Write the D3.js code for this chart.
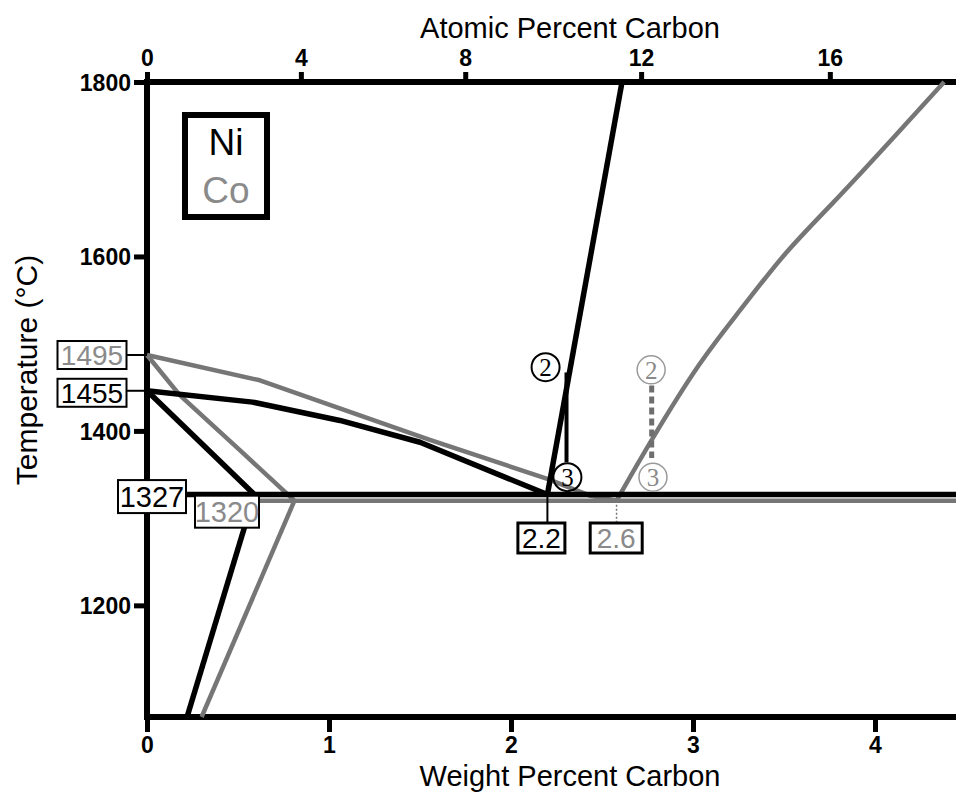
<!DOCTYPE html>
<html>
<head>
<meta charset="utf-8">
<script src="https://cdn.jsdelivr.net/npm/d3@7.9.0/dist/d3.min.js"></script>
<style>
  body { margin: 0; background: #fff; }
  svg { display: block; font-family: "Liberation Sans", Arial, sans-serif; }
</style>
</head>
<body>
<svg width="956" height="799"></svg>
<script>
// ---- data (wt% C, temperature in °C) ----
const weightTicks = [0, 1, 2, 3, 4];
const atomicTicks = [0, 4, 8, 12, 16];
const tempTicks = [1200, 1400, 1600, 1800];

const niLiquidus = [[0, 1446], [0.58, 1433], [1.06, 1412], [1.50, 1387], [2.2, 1327]];
const coLiquidus = [[0, 1487], [0.62, 1458], [1.55, 1390], [2.2, 1345], [2.43, 1326], [2.58, 1320]];
const niSolidus = [[0, 1446], [0.59, 1327]];
const coSolidus = [[0, 1487], [0.18, 1441], [0.51, 1378], [0.81, 1320]];
const niSolvus = [[0.59, 1327], [0.22, 1072]];
const coSolvus = [[0.81, 1320], [0.30, 1072]];
const niEutectic = [[0.21, 1327], [4.5, 1327]];
const coEutectic = [[0.62, 1320], [4.5, 1320]];
const niGraphite = [[2.2, 1327], [2.61, 1800]];
const coGraphite = [[2.58, 1320], [2.76, 1386], [3.04, 1481], [3.26, 1538], [3.50, 1604],
                    [3.77, 1661], [4.04, 1722], [4.38, 1800]];

const niBar = [[2.305, 1467], [2.305, 1364]];
const coBar = [[2.773, 1452], [2.773, 1369]];
const niMarks = [{ label: "2", w: 2.19, t: 1473 }, { label: "3", w: 2.31, t: 1347 }];
const coMarks = [{ label: "2", w: 2.77, t: 1470 }, { label: "3", w: 2.78, t: 1347 }];

const meltLabels = [{ text: "1495", t: 1487, co: true }, { text: "1455", t: 1446, co: false }];
const eutecticT = [{ text: "1327", t: 1327, co: false }, { text: "1320", t: 1320, co: true }];
const eutecticW = [{ text: "2.2", w: 2.2, co: false }, { text: "2.6", w: 2.6, co: true }];

const BLACK = "#000";
const GRAY = "#767676";
const GRAY_TEXT = "#8a8a8a";

// ---- scales ----
const svg = d3.select("svg");
const x = d3.scaleLinear().domain([0, 4.5]).range([147, 966]);
const y = d3.scaleLinear().domain([1072, 1800]).range([717, 82]);

// atomic % C in Ni -> weight % C
const atToWt = (a) => 100 * (a * 12.011) / (a * 12.011 + (100 - a) * 58.69);

const line = d3.line().x(d => x(d[0])).y(d => y(d[1]));
const smooth = d3.line().x(d => x(d[0])).y(d => y(d[1])).curve(d3.curveBasis);

// ---- axes ----
const axisB = svg.append("g")
  .attr("transform", `translate(0,${y(1072)})`)
  .call(d3.axisBottom(x).tickValues(weightTicks).tickSize(15).tickPadding(5).tickFormat(d3.format("d")));
const axisT = svg.append("g")
  .attr("transform", `translate(0,${y(1800)})`)
  .call(d3.axisTop(x).tickValues(atomicTicks.map(atToWt)).tickSize(10).tickPadding(6)
    .tickFormat((d, i) => atomicTicks[i]));
const axisL = svg.append("g")
  .attr("transform", `translate(${x(0)},0)`)
  .call(d3.axisLeft(y).tickValues(tempTicks).tickSize(13).tickPadding(3).tickFormat(d3.format("d")));

[axisB, axisT, axisL].forEach(g => {
  g.select(".domain").remove();
  g.attr("font-family", null).attr("font-size", null);
  g.selectAll(".tick line").attr("stroke", BLACK).attr("stroke-width", 5);
  g.selectAll(".tick text").attr("font-size", 23).attr("font-weight", "bold").attr("fill", BLACK);
});
axisL.selectAll(".tick text").attr("dy", "0.36em");

// frame
svg.append("path")
  .attr("d", `M${x(4.5)},${y(1800)}H${x(0)}V${y(1072)}H${x(4.5)}`)
  .attr("fill", "none").attr("stroke", BLACK).attr("stroke-width", 6);

// axis titles
svg.append("text").attr("x", 570).attr("y", 38).attr("text-anchor", "middle")
  .attr("font-size", 29).text("Atomic Percent Carbon");
svg.append("text").attr("x", 570).attr("y", 786).attr("text-anchor", "middle")
  .attr("font-size", 29).text("Weight Percent Carbon");
svg.append("text").attr("transform", "translate(37,370) rotate(-90)").attr("text-anchor", "middle")
  .attr("font-size", 30).text("Temperature (°C)");

// ---- phase boundaries ----
const curves = svg.append("g").attr("fill", "none").attr("stroke-linejoin", "round");
[coLiquidus, coSolidus, coSolvus, coEutectic].forEach(d =>
  curves.append("path").attr("d", line(d)).attr("stroke", GRAY).attr("stroke-width", 4.5));
curves.append("path").attr("d", smooth(coGraphite)).attr("stroke", GRAY).attr("stroke-width", 4.5);
[niLiquidus, niSolidus, niSolvus, niEutectic, niGraphite].forEach(d =>
  curves.append("path").attr("d", line(d)).attr("stroke", BLACK).attr("stroke-width", 5.5));

curves.append("path").attr("d", line(niBar)).attr("stroke", BLACK).attr("stroke-width", 4);
curves.append("path").attr("d", line(coBar)).attr("stroke", "#6e6e6e").attr("stroke-width", 5)
  .attr("stroke-dasharray", "7,4");

// circled markers
function marks(data, color, textColor, width) {
  const g = svg.append("g").selectAll("g").data(data).join("g")
    .attr("transform", d => `translate(${x(d.w)},${y(d.t)})`);
  g.append("circle").attr("r", 14).attr("fill", "none")
    .attr("stroke", color).attr("stroke-width", width);
  g.append("text").attr("text-anchor", "middle").attr("dy", "0.35em")
    .attr("font-family", "'Liberation Serif', 'DejaVu Serif', serif").attr("font-size", 25)
    .attr("fill", textColor).text(d => d.label);
}
marks(niMarks, BLACK, BLACK, 2);
marks(coMarks, "#9a9a9a", GRAY_TEXT, 1.5);

// boxed labels
function box(cx, cy, w, h, text, co, size, sw) {
  svg.append("rect").attr("x", cx - w / 2).attr("y", cy - h / 2).attr("width", w).attr("height", h)
    .attr("fill", "#fff").attr("stroke", BLACK).attr("stroke-width", sw);
  svg.append("text").attr("x", cx).attr("y", cy).attr("dy", "0.36em").attr("text-anchor", "middle")
    .attr("font-size", size).attr("fill", co ? GRAY_TEXT : BLACK).text(text);
}

// melting points on the temperature axis
meltLabels.forEach((d, i) => {
  svg.append("line").attr("x1", 127).attr("x2", x(0)).attr("y1", y(d.t)).attr("y2", y(d.t))
    .attr("stroke", BLACK).attr("stroke-width", 2);
  box(92, y(d.t) + (i ? 2 : 0), 69, 28, d.text, d.co, 28, 2);
});

// eutectic temperatures
box(152, y(eutecticT[0].t) + 2, 68, 33, eutecticT[0].text, eutecticT[0].co, 29, 2);
box(227, y(eutecticT[1].t) + 11, 64, 32, eutecticT[1].text, eutecticT[1].co, 29, 2);

// eutectic compositions
svg.append("line").attr("x1", x(2.2)).attr("x2", x(2.2)).attr("y1", y(1327)).attr("y2", 523)
  .attr("stroke", BLACK).attr("stroke-width", 2);
svg.append("line").attr("x1", x(2.58)).attr("x2", x(2.58)).attr("y1", y(1320)).attr("y2", 523)
  .attr("stroke", GRAY).attr("stroke-width", 1.5).attr("stroke-dasharray", "2,2");
box(x(eutecticW[0].w) - 6, 538, 47, 30, eutecticW[0].text, eutecticW[0].co, 28, 3);
box(x(eutecticW[1].w) - 4, 538, 52, 30, eutecticW[1].text, eutecticW[1].co, 28, 3);

// legend
svg.append("rect").attr("x", 185).attr("y", 115).attr("width", 82).attr("height", 102)
  .attr("fill", "#fff").attr("stroke", BLACK).attr("stroke-width", 6);
svg.append("text").attr("x", 226).attr("y", 155).attr("text-anchor", "middle")
  .attr("font-size", 37).attr("fill", BLACK).text("Ni");
svg.append("text").attr("x", 226).attr("y", 203).attr("text-anchor", "middle")
  .attr("font-size", 37).attr("fill", GRAY_TEXT).text("Co");
</script>
</body>
</html>
